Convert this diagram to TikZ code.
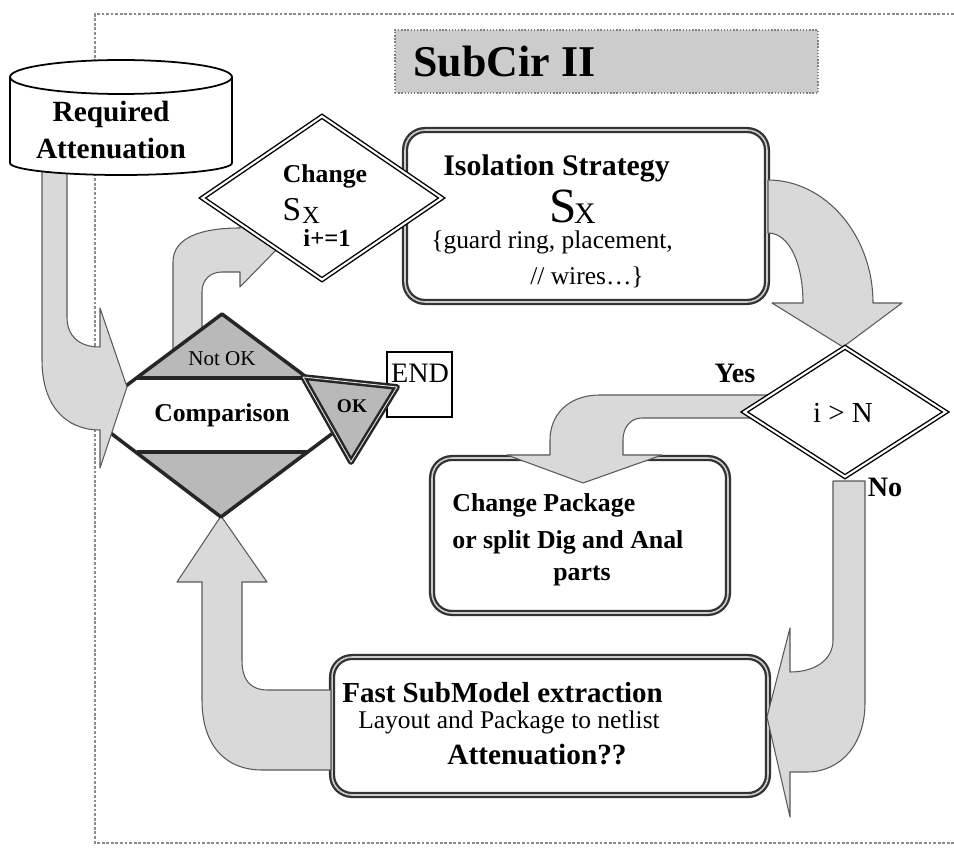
\documentclass[tikz,border=0pt]{standalone}
\usepackage{fontspec}
\setmainfont{Liberation Serif}
\usetikzlibrary{shapes.geometric}

\begin{document}
\begin{tikzpicture}[x=0.02cm, y=-0.02cm]
	\tikzset{boite/.style={rectangle, rounded corners=0.4cm, draw=black!80, line width=1.3pt, double=gray!40, double distance=0.9pt, fill=white},
		losange/.style={diamond, draw=black, line width=0.8pt, double=white, double distance=1.2pt, fill=white, inner sep=0pt},
		fleche/.style={fill=gray!30, draw=black!65, line width=0.6pt, line join=round},
		sombre/.style={fill=gray!55, draw=black!85, line width=1.4pt, double=gray!20, double distance=0.5pt, line join=round},
		texte/.style={inner sep=0pt, font=\fontsize{14.5}{17}\selectfont},
		gras/.style={inner sep=0pt, font=\fontsize{16.5}{20.5}\selectfont\bfseries}};
	\useasboundingbox (0,0) rectangle (954,848);
	% cadre et titre
	\draw[black!45, densely dotted, line width=1.6pt] (954,14) -- (95,14) -- (95,843) -- (954,843);
	\node[rectangle, fill=gray!40, draw=black!50, densely dotted, line width=0.8pt, minimum width=8.46cm, minimum height=1.26cm] (titre) at (606.5,61.5) {};
	\node[anchor=west, inner sep=0pt, font=\fontsize{25}{30}\selectfont\bfseries] (titretxt) at (413,62) {SubCir II};

	% boites
	\node[boite, minimum width=7.24cm, minimum height=3.44cm] (iso) at (586,216) {};
	\node[boite, minimum width=5.92cm, minimum height=3.1cm] (paquet) at (580,535.5) {};
	\node[boite, minimum width=8.72cm, minimum height=2.76cm] (rapide) at (550,726) {};
	\node[rectangle, draw=black, line width=0.9pt, fill=white, minimum width=1.3cm, minimum height=1.3cm] (fin) at (419.5,384.5) {};

	% fleches
	\draw[fleche] (173,365) -- (173,262) .. controls (173,238) and (200,228) .. (240,228) -- (240,205) -- (280,246) -- (240,287) -- (240,272) -- (222,272) .. controls (210,272) and (202,280) .. (202,292) -- (202,345) -- cycle;
	\draw[fleche] (768,180) .. controls (825,180) and (873,235) .. (873,303) -- (902,303) -- (843,347) -- (772,303) -- (803,303) .. controls (803,265) and (790,233) .. (768,233) -- cycle;
	\draw[fleche] (775,395) -- (600,395) .. controls (568,395) and (550,415) .. (550,440) -- (550,455) -- (507,455) -- (583,483) -- (662,455) -- (623,455) -- (623,440) .. controls (623,428) and (630,418) .. (642,418) -- (775,418) -- cycle;
	\draw[fleche] (833,481) -- (865,481) -- (865,703) .. controls (865,745) and (840,772) .. (807,772) -- (790,772) -- (790,817) -- (767,717) -- (790,628) -- (790,672) .. controls (815,672) and (833,660) .. (833,640) -- cycle;
	\draw[fleche] (331,690) -- (268,690) .. controls (250,690) and (242,680) .. (242,660) -- (242,582) -- (267,582) -- (221,516) -- (177,582) -- (202,582) -- (202,700) .. controls (202,745) and (225,770) .. (262,770) -- (331,770) -- cycle;

	% comparaison
	\coordinate (cg) at (87,415);
	\coordinate (ch) at (222,314);
	\coordinate (cd) at (357,415);
	\coordinate (cb) at (221,517);
	\fill[gray!55] (cg) -- (ch) -- (cd) -- (cb) -- cycle;
	\fill[white] (136.5,378) -- (307.5,378) -- (cd) -- (307.5,452) -- (136.5,452) -- (cg) -- cycle;
	\draw[black!85, line width=2pt, line join=round] (cg) -- (ch) -- (cd) -- (cb) -- cycle;
	\draw[black!85, line width=2pt] (136.5,378) -- (307.5,378) (136.5,452) -- (307.5,452);
	\draw[sombre] (303,377) -- (397,387) -- (351,462) -- cycle;
	\node[inner sep=0pt, font=\fontsize{12}{14}\selectfont] (pasok) at (222,359) {Not OK};
	\node[gras, font=\fontsize{14.6}{17}\selectfont\bfseries] (comp) at (222,415) {Comparison};
	\node[gras, font=\fontsize{11}{13}\selectfont\bfseries] (ok) at (352,406) {OK};
	\node[inner sep=0pt, font=\fontsize{16}{18}\selectfont] (fintxt) at (420,373) {END};

	% attenuation requise
	\draw[fleche] (42,170) -- (42,360) .. controls (42,405) and (65,430) .. (100,430) -- (100,468) -- (127,387) -- (100,308) -- (100,347) .. controls (80,347) and (67,337) .. (67,317) -- (67,170) -- cycle;
	\draw[fill=white, line width=1pt] (10,77) -- (10,163) arc[start angle=180, end angle=0, x radius=111, y radius=12] -- (232,77);
	\draw[fill=white, line width=1pt] (121,77) ellipse [x radius=111, y radius=17];
	\node[gras, align=center, font=\fontsize{16.7}{20.5}\selectfont\bfseries] (req) at (111,130) {Required\\Attenuation};

	% losanges
	\node[losange, minimum width=4.8cm, minimum height=3.28cm] (change) at (322,198) {};
	\node[losange, minimum width=4.04cm, minimum height=2.6cm] (test) at (845,412) {};
	\node[gras, font=\fontsize{14.6}{17}\selectfont\bfseries] (chgtxt) at (325,176) {Change};
	\node[inner sep=0pt, font=\fontsize{19}{20}\selectfont] (chgS) at (292,210) {S};
	\node[inner sep=0pt, font=\fontsize{14}{16}\selectfont] (chgX) at (311,215) {X};
	\node[inner sep=0pt, font=\fontsize{14}{16}\selectfont\bfseries] (chgI) at (327,238) {i+=1};
	\node[inner sep=0pt, font=\fontsize{16.5}{18}\selectfont] (testtxt) at (843,413) {i > N};
	\node[gras, font=\fontsize{16}{18}\selectfont\bfseries] (oui) at (735,373) {Yes};
	\node[gras, font=\fontsize{16}{18}\selectfont\bfseries] (non) at (885,487) {No};

	% textes des boites
	\node[gras, anchor=west, font=\fontsize{17}{20}\selectfont\bfseries] (isotxt) at (443,168) {Isolation Strategy};
	\node[inner sep=0pt, font=\fontsize{28}{30}\selectfont] (isoS) at (563,206) {S};
	\node[inner sep=0pt, font=\fontsize{17}{19}\selectfont] (isoX) at (585,214) {X};
	\node[texte] (isoa) at (552,242) {\{guard ring, placement,};
	\node[texte] (isob) at (587,277) {// wires…\}};
	\node[gras, anchor=west, font=\fontsize{14.7}{18}\selectfont\bfseries] (paq1) at (452,505) {Change Package};
	\node[gras, anchor=west, font=\fontsize{14.7}{18}\selectfont\bfseries] (paq2) at (452,542) {or split Dig and Anal};
	\node[gras, font=\fontsize{14.7}{18}\selectfont\bfseries] (paq3) at (582,576) {parts};
	\node[gras, anchor=west] (rap1) at (342,693) {Fast SubModel extraction};
	\node[texte, anchor=west] (rap2) at (358,722) {Layout and Package to netlist};
	\node[gras, anchor=west, font=\fontsize{16.7}{20}\selectfont\bfseries] (rap3) at (447,755) {Attenuation??};
\end{tikzpicture}
\end{document}
